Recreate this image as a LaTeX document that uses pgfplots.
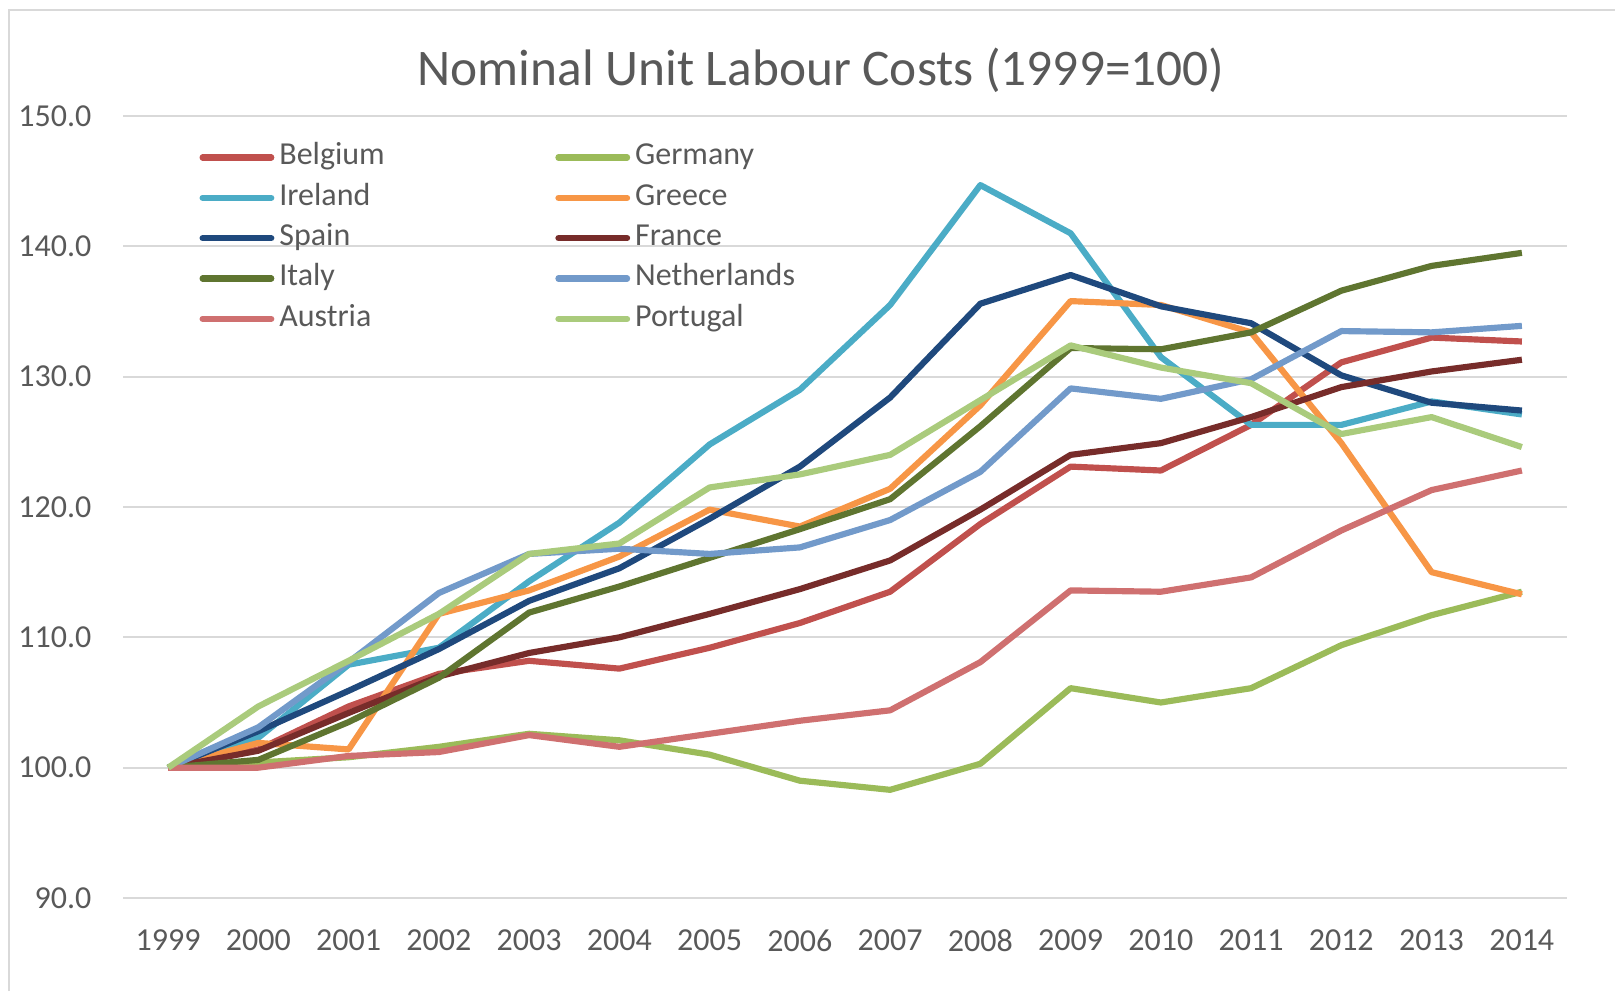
\documentclass[border=0pt]{standalone}
\usepackage{fontspec}
\setmainfont{Carlito}
\usepackage{pgfplots}
\pgfplotsset{compat=1.18}

\definecolor{txtgray}{HTML}{595959}
\definecolor{gridgray}{HTML}{D9D9D9}
\definecolor{cBE}{HTML}{C0504D}
\definecolor{cDE}{HTML}{9BBB59}
\definecolor{cIE}{HTML}{4BACC6}
\definecolor{cGR}{HTML}{F79646}
\definecolor{cES}{HTML}{1F497D}
\definecolor{cFR}{HTML}{772C2A}
\definecolor{cIT}{HTML}{5F7530}
\definecolor{cNL}{HTML}{729ACA}
\definecolor{cAT}{HTML}{CF7070}
\definecolor{cPT}{HTML}{AACB7C}

% year, value per country
\pgfplotstableread{
year BE    DE    IE    GR    ES    FR    IT    NL    AT    PT
1999 100.0 100.0 100.0 100.0 100.0 100.0 100.0 100.0 100.0 100.0
2000 101.4 100.4 102.3 101.9 102.8 101.3 100.6 103.1 100.0 104.7
2001 104.7 100.8 107.9 101.4 105.9 104.2 103.5 108.1 100.9 108.2
2002 107.2 101.6 109.2 111.8 109.1 107.0 106.9 113.4 101.2 111.8
2003 108.2 102.6 114.3 113.6 112.8 108.8 111.9 116.4 102.5 116.4
2004 107.6 102.1 118.8 116.2 115.3 110.0 113.9 116.8 101.6 117.2
2005 109.2 101.0 124.8 119.8 119.1 111.8 116.1 116.4 102.6 121.5
2006 111.1 99.0  129.0 118.5 123.1 113.7 118.3 116.9 103.6 122.5
2007 113.5 98.3  135.5 121.4 128.4 115.9 120.6 119.0 104.4 124.0
2008 118.7 100.3 144.7 127.8 135.6 119.8 126.2 122.7 108.1 128.2
2009 123.1 106.1 141.0 135.8 137.8 124.0 132.2 129.1 113.6 132.4
2010 122.8 105.0 131.5 135.5 135.4 124.9 132.1 128.3 113.5 130.7
2011 126.3 106.1 126.3 133.4 134.1 126.9 133.4 129.8 114.6 129.5
2012 131.1 109.4 126.3 124.9 130.1 129.2 136.6 133.5 118.2 125.6
2013 133.0 111.7 128.1 115.0 128.0 130.4 138.5 133.4 121.3 126.9
2014 132.7 113.5 127.1 113.3 127.4 131.3 139.5 133.9 122.8 124.6
}\ulc

\begin{document}
\begin{tikzpicture}
\useasboundingbox (0,0) rectangle (484.5pt,297.3pt);
\draw[gridgray, line width=0.6pt] (2.7pt,0pt) -- (2.7pt,294.3pt) -- (484.5pt,294.3pt);
\node[text=txtgray, font=\fontsize{15.4}{18}\selectfont] at (246.3pt,276.3pt)
  {Nominal Unit Labour Costs (1999=100)};
\begin{axis}[
  at={(36.9pt,27.9pt)}, anchor=south west,
  scale only axis, width=433.2pt, height=234.6pt,
  xmin=1998.5, xmax=2014.5, ymin=90, ymax=150,
  xtick={1999,...,2014}, ytick={90,100,...,150},
  axis x line=bottom, axis y line=left,
  axis line style={draw=none,-},
  major tick length=0pt,
  ymajorgrids, grid style={gridgray, line width=0.55pt},
  tick label style={text=txtgray, font=\fontsize{9.6}{11}\selectfont},
  /pgf/number format/assume math mode=true,
  xticklabel style={anchor=north, inner sep=0pt, yshift=-9.4pt,
    /pgf/number format/1000 sep={}},
  yticklabel style={anchor=east, inner sep=0pt, xshift=-9.3pt,
    /pgf/number format/fixed, /pgf/number format/fixed zerofill,
    /pgf/number format/precision=1},
  every axis plot/.append style={line width=1.85pt, line join=round, no markers},
  legend columns=2,
  legend cell align=left,
  legend image code/.code={\draw[#1, line cap=round] (0pt,0pt) -- (20.6pt,0pt);},
  legend style={at={(axis description cs:0.053,0.9657)}, anchor=north west,
    draw=none, fill=none, inner sep=0pt, outer sep=0pt, row sep=3.3pt,
    font=\fontsize{9.6}{11}\selectfont, text=txtgray,
    nodes={inner sep=0pt, text height=6.6pt, text depth=2.2pt,
           text width=82.8pt, align=left},
    /tikz/every odd column/.append style={column sep=1.5pt}},
]
\addplot[cBE] table[x=year, y=BE] {\ulc};
\addlegendentry{Belgium}
\addplot[cDE] table[x=year, y=DE] {\ulc};
\addlegendentry{Germany}
\addplot[cIE] table[x=year, y=IE] {\ulc};
\addlegendentry{Ireland}
\addplot[cGR] table[x=year, y=GR] {\ulc};
\addlegendentry{Greece}
\addplot[cES] table[x=year, y=ES] {\ulc};
\addlegendentry{Spain}
\addplot[cFR] table[x=year, y=FR] {\ulc};
\addlegendentry{France}
\addplot[cIT] table[x=year, y=IT] {\ulc};
\addlegendentry{Italy}
\addplot[cNL] table[x=year, y=NL] {\ulc};
\addlegendentry{Netherlands}
\addplot[cAT] table[x=year, y=AT] {\ulc};
\addlegendentry{Austria}
\addplot[cPT] table[x=year, y=PT] {\ulc};
\addlegendentry{Portugal}
\end{axis}
\end{tikzpicture}
\end{document}
